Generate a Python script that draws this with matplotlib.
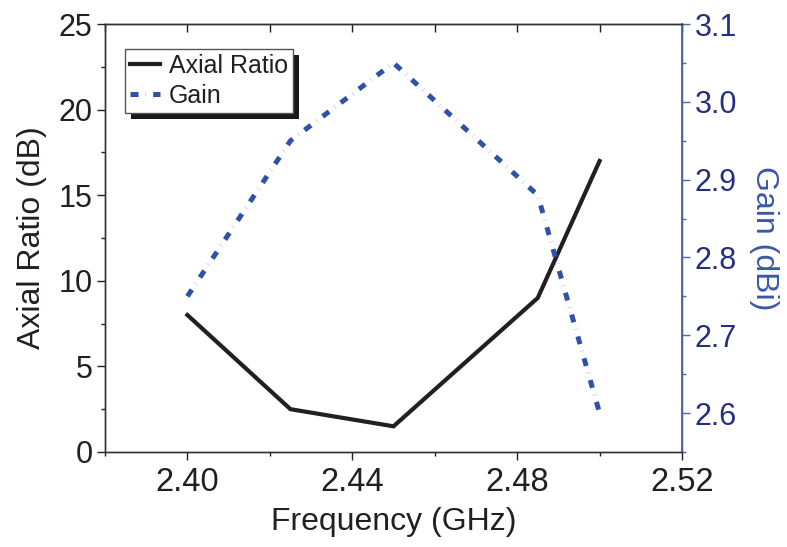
import matplotlib.pyplot as plt
from matplotlib.patches import Rectangle
from matplotlib.transforms import IdentityTransform
from matplotlib.ticker import MultipleLocator, FormatStrFormatter

# values
freq = [2.40, 2.425, 2.45, 2.485, 2.50]
axial_ratio = [8.0, 2.5, 1.5, 9.0, 17.0]
gain = [2.75, 2.95, 3.05, 2.88, 2.60]

plt.rcParams['font.family'] = ['Liberation Sans', 'DejaVu Sans']

dark = '#231f20'
blue_line = '#2f52a8'
blue_spine = '#4a68b0'
blue_text = '#252f80'
blue_label = '#3a58a8'

fig = plt.figure(figsize=(7.87, 5.47), dpi=100)
ax = fig.add_axes([0.1334, 0.1737, 0.7332, 0.7824])
ax2 = ax.twinx()

ar_line, = ax.plot(freq, axial_ratio, color=dark, lw=3.0, solid_joinstyle='miter',
                   label='Axial Ratio')
g_line, = ax2.plot(freq, gain, color=blue_line, lw=3.6, dashes=(1.6, 1.45, 0.04, 1.45),
                   label='Gain')

ax.set_xlim(2.38, 2.52)
ax.set_ylim(0, 25)
ax2.set_ylim(2.55, 3.1)

ax.xaxis.set_major_locator(MultipleLocator(0.04))
ax.xaxis.set_minor_locator(MultipleLocator(0.02))
ax.xaxis.set_major_formatter(FormatStrFormatter('%.2f'))
ax.yaxis.set_major_locator(MultipleLocator(5))
ax.yaxis.set_minor_locator(MultipleLocator(2.5))
ax2.yaxis.set_major_locator(MultipleLocator(0.1))
ax2.yaxis.set_minor_locator(MultipleLocator(0.05))
ax2.yaxis.set_major_formatter(FormatStrFormatter('%.1f'))

for a in (ax, ax2):
    for s in a.spines.values():
        s.set_linewidth(1.0)
        s.set_color('#333333')
ax2.spines['right'].set_color(blue_spine)
ax2.spines['right'].set_linewidth(1.3)

ax.tick_params(axis='both', which='major', direction='out', length=6, width=1.0,
               labelsize=22, colors=dark, pad=3)
ax.tick_params(axis='both', which='minor', direction='out', length=3, width=1.0, colors=dark)
ax.tick_params(axis='x', pad=5, labelsize=23.5)
ax2.tick_params(axis='y', which='major', direction='out', length=6, width=1.0,
                labelsize=22, color=blue_spine, labelcolor=blue_text, pad=3)
ax2.tick_params(axis='y', which='minor', direction='out', length=3, width=1.0,
                color=blue_spine)

# top axis: inward ticks, no labels
top = ax.secondary_xaxis('top')
top.xaxis.set_major_locator(MultipleLocator(0.02))
top.tick_params(direction='in', length=6, width=1.0, labeltop=False, color=dark)
top.spines['top'].set_color('#333333')

ax.set_xlabel('Frequency (GHz)', fontsize=23, color=dark, labelpad=6)
ax.set_ylabel('Axial Ratio (dB)', fontsize=23, color=dark, labelpad=8)
ax2.set_ylabel('Gain (dBi)', fontsize=23, color=blue_label, rotation=270, labelpad=30)

leg = ax2.legend(handles=[ar_line, g_line], loc='upper left',
                 bbox_to_anchor=(0.035, 0.942), borderaxespad=0, fontsize=18,
                 fancybox=False, framealpha=1, edgecolor='#555555',
                 handlelength=1.2, handletextpad=0.35, borderpad=0.2, labelspacing=0.25)
leg.get_frame().set_linewidth(1.0)
for t in leg.get_texts():
    t.set_color(dark)

# solid black drop shadow like the original
fig.canvas.draw()
bb = leg.get_window_extent()
shadow = Rectangle((bb.x0 + 6, bb.y0 - 6), bb.width, bb.height, transform=IdentityTransform(),
                   facecolor='#1a1a1a', edgecolor='none', zorder=leg.get_zorder() - 0.1,
                   clip_on=False)
ax2.add_artist(shadow)

fig.savefig('out.png', dpi=100)
